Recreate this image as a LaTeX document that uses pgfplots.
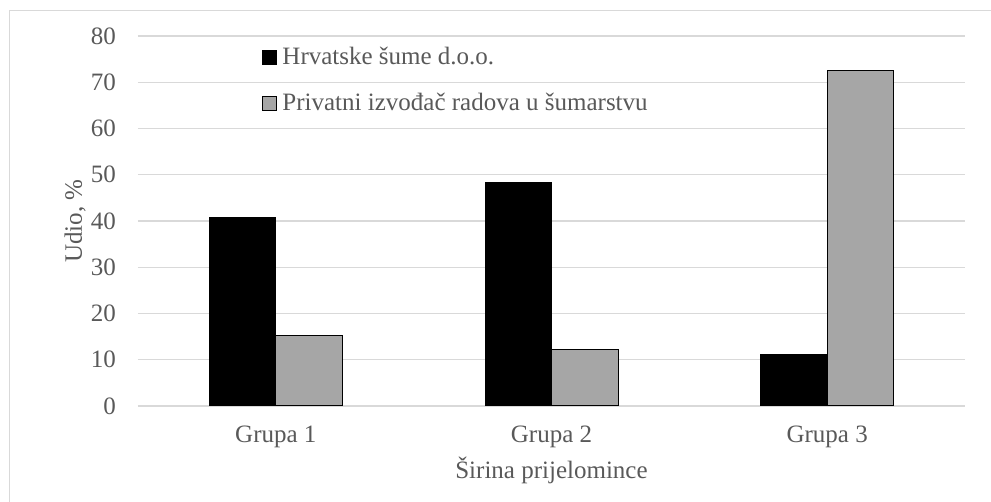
\documentclass[border=0pt]{standalone}
\usepackage{pgfplots}
\pgfplotsset{compat=1.18}
\usepackage{fontspec}
\setmainfont{Liberation Serif}
\definecolor{txt}{HTML}{595959}
\definecolor{gridc}{HTML}{D9D9D9}
\definecolor{barg}{HTML}{A6A6A6}
\newcommand{\chf}{\fontsize{25}{30}\selectfont}
\begin{document}
\begin{tikzpicture}
\path[use as bounding box] (-138pt,-96pt) rectangle (853pt,406pt);
\begin{axis}[
  scale only axis, width=827pt, height=370pt,
  xmin=-0.5, xmax=2.5, ymin=0, ymax=80,
  ytick={0,10,...,80}, xtick={0,1,2},
  xticklabels={Grupa 1,Grupa 2,Grupa 3},
  axis line style={draw=none}, major tick length=0pt,
  ymajorgrids, grid style={gridc, line width=1.2pt},
  ybar=0pt, bar width=66.5pt,
  tick label style={font=\chf, text=txt, inner sep=0pt},
  /pgf/number format/assume math mode=true,
  yticklabel style={anchor=east, xshift=-22pt},
  xticklabel style={anchor=base, yshift=-37pt},
  xlabel={Širina prijelomince}, ylabel={Udio, \%},
  label style={font=\chf, text=txt, inner sep=0pt},
  xlabel style={at={([yshift=-73pt]axis description cs:0.5,0)}, anchor=base},
  ylabel style={at={([xshift=-56pt]axis description cs:0,0.5)}, anchor=base},
  legend style={draw=none, fill=none, at={(0.1499,0.9703)}, anchor=north west,
    inner sep=0pt, outer sep=0pt, row sep=27pt, font=\chf, text=txt,
    nodes={inner sep=0pt},
    /tikz/every odd column/.append style={column sep=5.5pt}},
  legend cell align=left,
  legend image code/.code={\draw[#1, line width=1pt] (0pt,-8.3pt) rectangle (14pt,5.7pt);},
]
\addplot[fill=black, draw=black, line width=1pt] coordinates {(0,40.8) (1,48.3) (2,11.2)};
\addplot[fill=barg, draw=black, line width=1pt] coordinates {(0,15.3) (1,12.2) (2,72.6)};
\legend{Hrvatske šume d.o.o., Privatni izvođač radova u šumarstvu}
\end{axis}
\draw[gridc, line width=1pt] (-128pt,-96pt) -- (-128pt,395pt) -- (853pt,395pt);
\end{tikzpicture}
\end{document}
